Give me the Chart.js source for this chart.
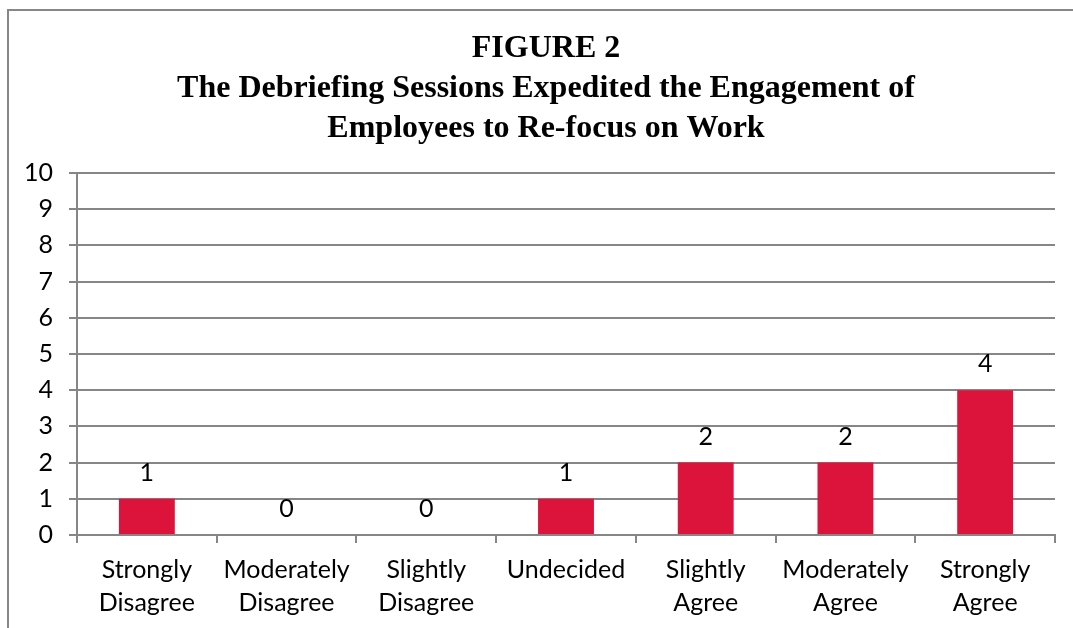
<!DOCTYPE html>
<html>
<head>
<meta charset="utf-8">
<script src="https://cdn.jsdelivr.net/npm/chart.js@4/dist/chart.umd.min.js"></script>
<style>
  html, body { margin: 0; background: #fff; overflow: hidden; }
  #frame { position: absolute; left: 7px; top: 9px; width: 1200px; height: 800px; border: 2px solid #878787; box-sizing: border-box; }
  #wrap { position: absolute; left: 0; top: 0; width: 1073px; height: 628px; }
</style>
</head>
<body>
<div id="frame"></div>
<div id="wrap"><canvas id="GraficoFigura2" width="1073" height="628"></canvas></div>
<script>
// dados
var categorias = [
    ["Strongly", "Disagree"],
    ["Moderately", "Disagree"],
    ["Slightly", "Disagree"],
    "Undecided",
    ["Slightly", "Agree"],
    ["Moderately", "Agree"],
    ["Strongly", "Agree"]
];
var valores = [1, 0, 0, 1, 2, 2, 4];
var tituloLinhas = [
    "FIGURE 2",
    "The Debriefing Sessions Expedited the Engagement of",
    "Employees to Re-focus on Work"
];
var eixoMin = 0;
var eixoMax = 10;

var fonteTexto = "Lato";
var cinza = "#868686";

// escreve o valor acima de cada barra
var rotulosBarras = {
    id: 'rotulosBarras',
    afterLayout: function (chart) {
        // o titulo fica centrado um pouco a direita do centro do canvas
        if (chart.titleBlock) chart.titleBlock.left = 37;
    },
    afterDatasetsDraw: function (chart) {
        var ctx = chart.ctx;
        var meta = chart.getDatasetMeta(0);
        ctx.save();
        ctx.font = "25px " + fonteTexto;
        ctx.fillStyle = "#000";
        ctx.textAlign = "center";
        ctx.textBaseline = "middle";
        meta.data.forEach(function (barra, i) {
            ctx.fillText(String(valores[i]), barra.x, barra.y - 26);
        });
        ctx.restore();
    }
};

new Chart(document.getElementById("GraficoFigura2"), {
    type: 'bar',
    data: {
        labels: categorias,
        datasets: [{
            label: "Respostas",
            data: valores,
            backgroundColor: "#DC143C",
            borderWidth: 0,
            barPercentage: 0.4,
            categoryPercentage: 1.0
        }]
    },
    options: {
        responsive: false,
        animation: false,
        layout: { padding: { left: 12, right: 18, top: 8, bottom: 0 } },
        plugins: {
            legend: { display: false },
            tooltip: { enabled: false },
            title: {
                display: true,
                text: tituloLinhas,
                color: "#000",
                font: { family: "'Liberation Serif', 'Times New Roman', serif", size: 32, weight: 'bold', lineHeight: 1.25 },
                padding: { top: 21, bottom: 24 }
            }
        },
        scales: {
            x: {
                grid: {
                    offset: true,
                    drawOnChartArea: false,
                    drawTicks: true,
                    tickLength: 8,
                    color: cinza,
                    lineWidth: 2
                },
                border: { display: true, color: cinza, width: 2 },
                ticks: {
                    color: "#000",
                    font: { family: fonteTexto, size: 25, lineHeight: 1.33 },
                    padding: 10,
                    maxRotation: 0,
                    autoSkip: false
                },
                afterFit: function (escala) { escala.height = 93; }
            },
            y: {
                min: eixoMin,
                max: eixoMax,
                grid: {
                    color: cinza,
                    lineWidth: 2,
                    tickLength: 8
                },
                border: { display: true, color: cinza, width: 2 },
                ticks: {
                    stepSize: 1,
                    color: "#000",
                    font: { family: fonteTexto, size: 25 },
                    padding: 16
                },
                afterFit: function (escala) { escala.width = 65; }
            }
        }
    },
    plugins: [rotulosBarras]
});
</script>
</body>
</html>
